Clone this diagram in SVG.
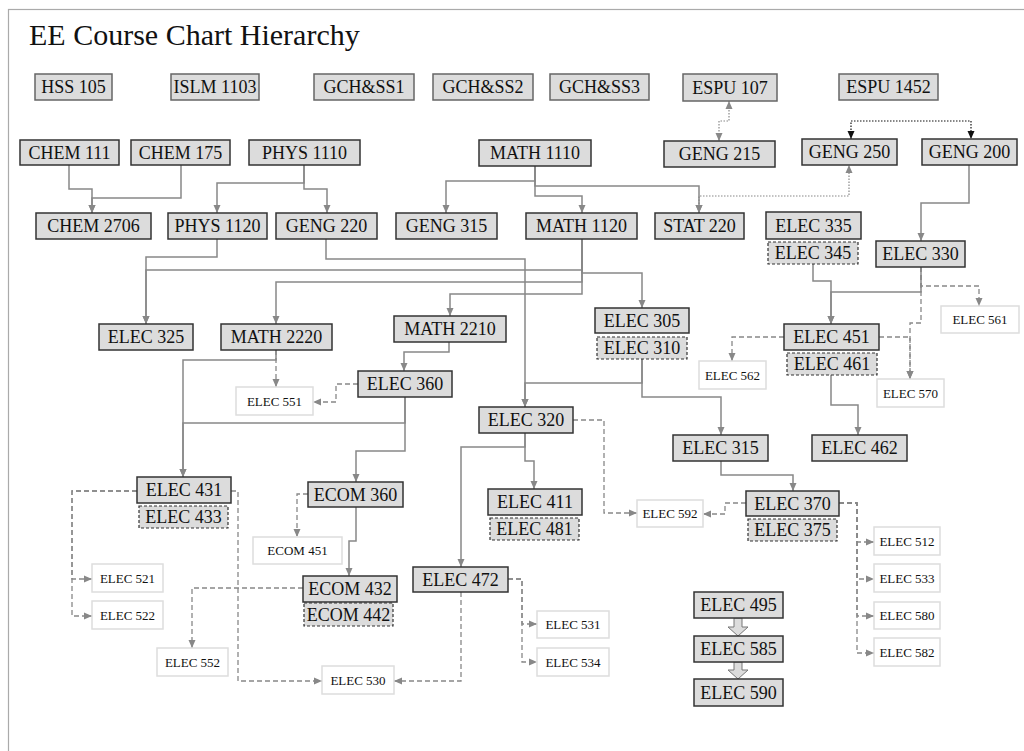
<svg xmlns="http://www.w3.org/2000/svg" width="1024" height="751" viewBox="0 0 1024 751">
<defs>
<style>
.b{fill:#dcdcdc;stroke:#333;stroke-width:1.5}
.bt{fill:#dcdcdc;stroke:#666;stroke-width:1.5}
.d{fill:#dcdcdc;stroke:#333;stroke-width:1.2;stroke-dasharray:3,2}
.l{fill:#fff;stroke:#ddd;stroke-width:1.5}
.t{font-family:"Liberation Serif","Times New Roman",serif;font-size:18px;fill:#111;text-anchor:middle}
.s{font-family:"Liberation Serif","Times New Roman",serif;font-size:13px;fill:#111;text-anchor:middle}
.c{fill:none;stroke:#888;stroke-width:1.5;marker-end:url(#a)}
.dash{fill:none;stroke:#888;stroke-width:1.3;stroke-dasharray:5,3;marker-end:url(#a)}
.dot{fill:none;stroke:#888;stroke-width:1.2;stroke-dasharray:1.5,1.5;marker-end:url(#a);marker-start:url(#a)}
.dotk{fill:none;stroke:#111;stroke-width:1.2;stroke-dasharray:1.5,1.5;marker-end:url(#k);marker-start:url(#k)}
.h{fill:#dcdcdc;stroke:#777;stroke-width:1}
</style>
<marker id="a" markerUnits="userSpaceOnUse" markerWidth="9" markerHeight="8" refX="8" refY="4" orient="auto-start-reverse"><path d="M0,0.5 L8,4 L0,7.5 z" fill="#888"/></marker>
<marker id="k" markerUnits="userSpaceOnUse" markerWidth="9" markerHeight="8" refX="8" refY="4" orient="auto-start-reverse"><path d="M0,0.5 L8,4 L0,7.5 z" fill="#111"/></marker>
</defs>
<rect x="0" y="0" width="1024" height="751" fill="#fff"/>
<rect x="8.5" y="9.5" width="1040" height="780" fill="#fff" stroke="#aaa" stroke-width="1.2"/>
<text x="29" y="45" font-family="'Liberation Serif','Times New Roman',serif" font-size="30" fill="#111">EE Course Chart Hierarchy</text>

<g id="connectors">
<path class="c" d="M69,165 V189 H92 V213"/>
<path class="c" d="M181,165 V198 H92 V213"/>
<path class="c" d="M304,165 V183 H217 V213"/>
<path class="c" d="M304,165 V189 H327 V213"/>
<path class="c" d="M535,166 V181 H446 V213"/>
<path class="c" d="M535,166 V196 H582 V213"/>
<path class="c" d="M535,166 V186 H699 V213"/>
<path class="dot" d="M729,101 V121 H719 V141"/>
<path class="dotk" d="M851,139 V121 H971 V139"/>
<path class="dot" d="M699,213 V196 H849 V165"/>
<path class="c" d="M969,165 V203 H921 V241"/>
<path class="c" d="M217,239 V257 H146 V324"/>
<path class="c" d="M582,239 V270 H146 V324"/>
<path class="c" d="M582,239 V282 H276 V324"/>
<path class="c" d="M582,239 V294 H450 V316"/>
<path class="c" d="M582,239 V273 H642 V308"/>
<path class="c" d="M326,239 V259 H525 V407"/>
<path class="c" d="M642,359 V383 H525 V407"/>
<path class="c" d="M642,359 V397 H721 V435"/>
<path class="c" d="M813,264 V281 H831 V324"/>
<path class="c" d="M921,267 V292 H831 V324"/>
<path class="dash" d="M921,267 V286 H979 V306"/>
<path class="dash" d="M921,267 V323 H910 V379"/>
<path class="dash" d="M784,337 H732 V361"/>
<path class="dash" d="M879,337 H910 V379"/>
<path class="c" d="M831,375 V405 H858 V435"/>
<path class="c" d="M721,461 V475 H793 V491"/>
<path class="c" d="M449,342 V352 H404 V371"/>
<path class="dash" d="M358,384 H336 V402 H313"/>
<path class="dash" d="M276,350 V387"/>
<path class="c" d="M276,350 V360 H183 V477"/>
<path class="c" d="M405,397 V423 H183 V477"/>
<path class="c" d="M405,397 V451 H356 V482"/>
<path class="c" d="M525,433 V447 H461 V567"/>
<path class="c" d="M525,433 V461 H534 V489"/>
<path class="dash" d="M573,420 H604 V513 H637"/>
<path class="dash" d="M746,503 H725 V514 H703"/>
<path class="dash" d="M839,503 H857 V542 H874"/>
<path class="dash" d="M839,503 H857 V579 H874"/>
<path class="dash" d="M839,503 H857 V616 H874"/>
<path class="dash" d="M839,503 H857 V653 H874"/>
<path class="dash" d="M137,491 H72 V579 H92"/>
<path class="dash" d="M137,491 H72 V616 H92"/>
<path class="dash" d="M231,491 H238 V681 H322"/>
<path class="dash" d="M461,592 V681 H394"/>
<path class="dash" d="M508,579 H522 V624 H537"/>
<path class="dash" d="M508,579 H522 V662 H537"/>
<path class="dash" d="M308,494 H297 V537"/>
<path class="c" d="M356,507 V541 H349 V576"/>
<path class="dash" d="M303,588 H192 V648"/>
<polygon class="h" points="734,618 742,618 742,627 748,627 738,636 728,627 734,627"/>
<polygon class="h" points="734,662 742,662 742,670 748,670 738,679 728,670 734,670"/>
</g>

<g id="hss105"><rect class="bt" x="35" y="74" width="77" height="26"/><text class="t" x="73.5" y="93">HSS 105</text></g>
<g id="islm1103"><rect class="bt" x="171" y="74" width="88" height="26"/><text class="t" x="215" y="93">ISLM 1103</text></g>
<g id="gchss1"><rect class="bt" x="314" y="74" width="100" height="26"/><text class="t" x="364" y="93">GCH&amp;SS1</text></g>
<g id="gchss2"><rect class="bt" x="433" y="74" width="100" height="26"/><text class="t" x="483" y="93">GCH&amp;SS2</text></g>
<g id="gchss3"><rect class="bt" x="550" y="74" width="99" height="26"/><text class="t" x="599.5" y="93">GCH&amp;SS3</text></g>
<g id="espu107"><rect class="bt" x="683" y="74" width="94" height="27"/><text class="t" x="730" y="93.5">ESPU 107</text></g>
<g id="espu1452"><rect class="bt" x="839" y="74" width="99" height="26"/><text class="t" x="888.5" y="93">ESPU 1452</text></g>

<g id="chem111"><rect class="b" x="20" y="140" width="99" height="25"/><text class="t" x="69.5" y="158.5">CHEM 111</text></g>
<g id="chem175"><rect class="b" x="131" y="140" width="99" height="25"/><text class="t" x="180.5" y="158.5">CHEM 175</text></g>
<g id="phys1110"><rect class="b" x="249" y="140" width="111" height="25"/><text class="t" x="304.5" y="158.5">PHYS 1110</text></g>
<g id="math1110"><rect class="b" x="479" y="140" width="112" height="26"/><text class="t" x="535" y="159">MATH 1110</text></g>
<g id="geng215"><rect class="b" x="664" y="141" width="111" height="26"/><text class="t" x="719.5" y="160">GENG 215</text></g>
<g id="geng250"><rect class="b" x="802" y="139" width="95" height="26"/><text class="t" x="849.5" y="158">GENG 250</text></g>
<g id="geng200"><rect class="b" x="922" y="139" width="95" height="26"/><text class="t" x="969.5" y="158">GENG 200</text></g>

<g id="chem2706"><rect class="b" x="36" y="213" width="115" height="26"/><text class="t" x="93.5" y="232">CHEM 2706</text></g>
<g id="phys1120"><rect class="b" x="168" y="213" width="99" height="26"/><text class="t" x="217.5" y="232">PHYS 1120</text></g>
<g id="geng220"><rect class="b" x="276" y="213" width="101" height="26"/><text class="t" x="326.5" y="232">GENG 220</text></g>
<g id="geng315"><rect class="b" x="396" y="213" width="101" height="26"/><text class="t" x="446.5" y="232">GENG 315</text></g>
<g id="math1120"><rect class="b" x="526" y="213" width="111" height="26"/><text class="t" x="581.5" y="232">MATH 1120</text></g>
<g id="stat220"><rect class="b" x="655" y="213" width="89" height="26"/><text class="t" x="699.5" y="232">STAT 220</text></g>
<g id="elec335"><rect class="b" x="766" y="212" width="95" height="27"/><text class="t" x="813.5" y="231.5">ELEC 335</text></g>
<g id="elec345"><rect class="d" x="768" y="242" width="90" height="22"/><text class="t" x="813" y="259">ELEC 345</text></g>
<g id="elec330"><rect class="b" x="876" y="241" width="89" height="26"/><text class="t" x="920.5" y="260">ELEC 330</text></g>

<g id="elec325"><rect class="b" x="99" y="324" width="94" height="26"/><text class="t" x="146" y="343">ELEC 325</text></g>
<g id="math2220"><rect class="b" x="221" y="324" width="111" height="26"/><text class="t" x="276.5" y="343">MATH 2220</text></g>
<g id="math2210"><rect class="b" x="394" y="316" width="112" height="26"/><text class="t" x="450" y="335">MATH 2210</text></g>
<g id="elec305"><rect class="b" x="595" y="308" width="94" height="25"/><text class="t" x="642" y="326.5">ELEC 305</text></g>
<g id="elec310"><rect class="d" x="597" y="337" width="90" height="22"/><text class="t" x="642" y="354">ELEC 310</text></g>
<g id="elec451"><rect class="b" x="784" y="324" width="95" height="26"/><text class="t" x="831.5" y="343">ELEC 451</text></g>
<g id="elec461"><rect class="d" x="787" y="353" width="90" height="22"/><text class="t" x="832" y="370">ELEC 461</text></g>
<g id="elec561"><rect class="l" x="941" y="306" width="78" height="27"/><text class="s" x="980" y="324">ELEC 561</text></g>
<g id="elec562"><rect class="l" x="699" y="361" width="67" height="28"/><text class="s" x="732.5" y="379.5">ELEC 562</text></g>
<g id="elec570"><rect class="l" x="877" y="379" width="67" height="28"/><text class="s" x="910.5" y="397.5">ELEC 570</text></g>
<g id="elec551"><rect class="l" x="236" y="387" width="77" height="28"/><text class="s" x="274.5" y="405.5">ELEC 551</text></g>
<g id="elec360"><rect class="b" x="358" y="371" width="94" height="26"/><text class="t" x="405" y="390">ELEC 360</text></g>
<g id="elec320"><rect class="b" x="479" y="407" width="94" height="26"/><text class="t" x="526" y="426">ELEC 320</text></g>
<g id="elec315"><rect class="b" x="673" y="435" width="95" height="26"/><text class="t" x="720.5" y="454">ELEC 315</text></g>
<g id="elec462"><rect class="b" x="812" y="435" width="95" height="26"/><text class="t" x="859.5" y="454">ELEC 462</text></g>

<g id="elec431"><rect class="b" x="137" y="477" width="94" height="26"/><text class="t" x="184" y="496">ELEC 431</text></g>
<g id="elec433"><rect class="d" x="139" y="506" width="89" height="22"/><text class="t" x="183.5" y="523">ELEC 433</text></g>
<g id="ecom360"><rect class="b" x="308" y="482" width="95" height="25"/><text class="t" x="355.5" y="500.5">ECOM 360</text></g>
<g id="elec411"><rect class="b" x="488" y="489" width="94" height="26"/><text class="t" x="535" y="508">ELEC 411</text></g>
<g id="elec481"><rect class="d" x="490" y="518" width="89" height="22"/><text class="t" x="534.5" y="535">ELEC 481</text></g>
<g id="elec370"><rect class="b" x="746" y="491" width="93" height="25"/><text class="t" x="792.5" y="509.5">ELEC 370</text></g>
<g id="elec375"><rect class="d" x="748" y="519" width="89" height="22"/><text class="t" x="792.5" y="536">ELEC 375</text></g>
<g id="elec592"><rect class="l" x="637" y="500" width="66" height="27"/><text class="s" x="670" y="518">ELEC 592</text></g>
<g id="ecom451"><rect class="l" x="253" y="537" width="89" height="27"/><text class="s" x="297.5" y="555">ECOM 451</text></g>
<g id="elec512"><rect class="l" x="874" y="527" width="66" height="28"/><text class="s" x="907" y="545.5">ELEC 512</text></g>
<g id="elec533"><rect class="l" x="874" y="564" width="66" height="28"/><text class="s" x="907" y="582.5">ELEC 533</text></g>
<g id="elec580"><rect class="l" x="874" y="602" width="66" height="27"/><text class="s" x="907" y="620">ELEC 580</text></g>
<g id="elec582"><rect class="l" x="874" y="638" width="66" height="28"/><text class="s" x="907" y="656.5">ELEC 582</text></g>
<g id="elec521"><rect class="l" x="92" y="564" width="71" height="28"/><text class="s" x="127.5" y="582.5">ELEC 521</text></g>
<g id="elec522"><rect class="l" x="92" y="601" width="71" height="28"/><text class="s" x="127.5" y="619.5">ELEC 522</text></g>
<g id="ecom432"><rect class="b" x="303" y="576" width="94" height="26"/><text class="t" x="350" y="595">ECOM 432</text></g>
<g id="ecom442"><rect class="d" x="304" y="603" width="89" height="23"/><text class="t" x="348.5" y="620.5">ECOM 442</text></g>
<g id="elec472"><rect class="b" x="413" y="567" width="95" height="25"/><text class="t" x="460.5" y="585.5">ELEC 472</text></g>
<g id="elec531"><rect class="l" x="537" y="611" width="72" height="27"/><text class="s" x="573" y="629">ELEC 531</text></g>
<g id="elec534"><rect class="l" x="537" y="648" width="72" height="28"/><text class="s" x="573" y="666.5">ELEC 534</text></g>
<g id="elec552"><rect class="l" x="157" y="648" width="71" height="28"/><text class="s" x="192.5" y="666.5">ELEC 552</text></g>
<g id="elec530"><rect class="l" x="322" y="666" width="72" height="28"/><text class="s" x="358" y="684.5">ELEC 530</text></g>
<g id="elec495"><rect class="b" x="694" y="592" width="89" height="26"/><text class="t" x="738.5" y="611">ELEC 495</text></g>
<g id="elec585"><rect class="b" x="694" y="636" width="89" height="26"/><text class="t" x="738.5" y="655">ELEC 585</text></g>
<g id="elec590"><rect class="b" x="694" y="679" width="89" height="27"/><text class="t" x="738.5" y="698.5">ELEC 590</text></g>
</svg>
